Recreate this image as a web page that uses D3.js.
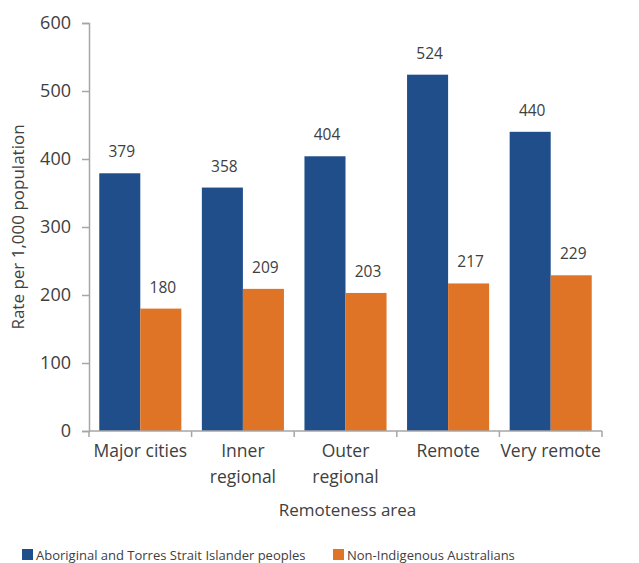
<!DOCTYPE html>
<html>
<head>
<meta charset="utf-8">
<script src="https://cdn.jsdelivr.net/npm/d3@7"></script>
<style>
  body { margin: 0; background: #fff; }
  svg text { font-family: "Open Sans", "Noto Sans", sans-serif; fill: #404040; }
</style>
</head>
<body>
<svg id="viz_area" width="639" height="563"></svg>
<script>
const categories = ["Major cities", "Inner regional", "Outer regional", "Remote", "Very remote"]
const categoryLines = [["Major cities"], ["Inner", "regional"], ["Outer", "regional"], ["Remote"], ["Very remote"]]
const seriesNames = ["Aboriginal and Torres Strait Islander peoples", "Non-Indigenous Australians"]
const indigenous = [379, 358, 404, 524, 440]
const nonIndigenous = [180, 209, 203, 217, 229]
const yTicks = [0, 100, 200, 300, 400, 500, 600]
const colors = ["#1F4E8A", "#E07426"]

const margin = { top: 23, right: 37, bottom: 132, left: 89 }
const svgSize = { width: 639, height: 563 }
const graphSize = {
    width: svgSize.width - margin.left - margin.right,
    height: svgSize.height - margin.top - margin.bottom
}

const svg = d3.select('#viz_area')
const g = svg.append('g')
    .attr('transform', 'translate(' + margin.left + ',' + margin.top + ')')

const xScale = d3.scaleBand()
    .domain(categories)
    .range([0, graphSize.width])
    .paddingInner(0.2)
    .paddingOuter(0.1)

const subScale = d3.scaleBand()
    .domain([0, 1])
    .range([0, xScale.bandwidth()])

const yScale = d3.scaleLinear()
    .domain([0, 600])
    .range([graphSize.height, 0])

const axisColor = '#A6A6A6'

// y axis
const yAxis = g.append('g')
    .call(d3.axisLeft(yScale).tickValues(yTicks).tickSize(7).tickPadding(11))
yAxis.select('.domain').attr('stroke', axisColor).attr('stroke-width', 1.5)
yAxis.selectAll('.tick line').attr('stroke', axisColor).attr('stroke-width', 1.5)
yAxis.selectAll('.tick text').style('font-size', '18px').attr('fill', '#404040')

// bars
const series = [indigenous, nonIndigenous]
series.forEach(function (values, si) {
    g.selectAll('.bar' + si)
        .data(values)
        .enter()
        .append('rect')
        .attr('x', function (d, i) { return xScale(categories[i]) + subScale(si) })
        .attr('y', function (d) { return yScale(d) })
        .attr('width', subScale.bandwidth())
        .attr('height', function (d) { return graphSize.height - yScale(d) })
        .attr('fill', colors[si])

    g.selectAll('.label' + si)
        .data(values)
        .enter()
        .append('text')
        .attr('x', function (d, i) { return xScale(categories[i]) + subScale(si) + subScale.bandwidth() / 2 + 2 })
        .attr('y', function (d) { return yScale(d) - 16 })
        .attr('text-anchor', 'middle')
        .style('font-size', '15.5px')
        .text(function (d) { return d })
})

// x axis
const xAxisG = g.append('g').attr('transform', 'translate(0,' + graphSize.height + ')')
xAxisG.append('line')
    .attr('x1', 0).attr('x2', graphSize.width)
    .attr('stroke', axisColor).attr('stroke-width', 1.5)
const step = xScale.step()
d3.range(categories.length + 1).forEach(function (i) {
    const x = xScale(categories[0]) - xScale.paddingOuter() * step + i * step
    xAxisG.append('line')
        .attr('x1', x).attr('x2', x).attr('y1', 0).attr('y2', 6)
        .attr('stroke', axisColor).attr('stroke-width', 1.5)
})
categories.forEach(function (c, i) {
    const t = xAxisG.append('text')
        .attr('x', xScale(c) + xScale.bandwidth() / 2)
        .attr('y', 26)
        .attr('text-anchor', 'middle')
        .style('font-size', '17.5px')
    categoryLines[i].forEach(function (line, li) {
        t.append('tspan')
            .attr('x', xScale(c) + xScale.bandwidth() / 2)
            .attr('dy', li === 0 ? 0 : 26)
            .text(line)
    })
})

// axis titles
svg.append('text')
    .attr('x', margin.left + graphSize.width / 2 + 2)
    .attr('y', 516)
    .attr('text-anchor', 'middle')
    .style('font-size', '17px')
    .text('Remoteness area')

svg.append('text')
    .attr('transform', 'translate(24,' + (margin.top + graphSize.height / 2) + ') rotate(-90)')
    .attr('text-anchor', 'middle')
    .style('font-size', '17px')
    .text('Rate per 1,000 population')

// legend
const legendX = [22, 333]
seriesNames.forEach(function (name, i) {
    svg.append('rect')
        .attr('x', legendX[i]).attr('y', 549)
        .attr('width', 11).attr('height', 11)
        .attr('fill', colors[i])
    svg.append('text')
        .attr('x', legendX[i] + 14).attr('y', 560)
        .style('font-size', '13px')
        .text(name)
})
</script>
</body>
</html>
